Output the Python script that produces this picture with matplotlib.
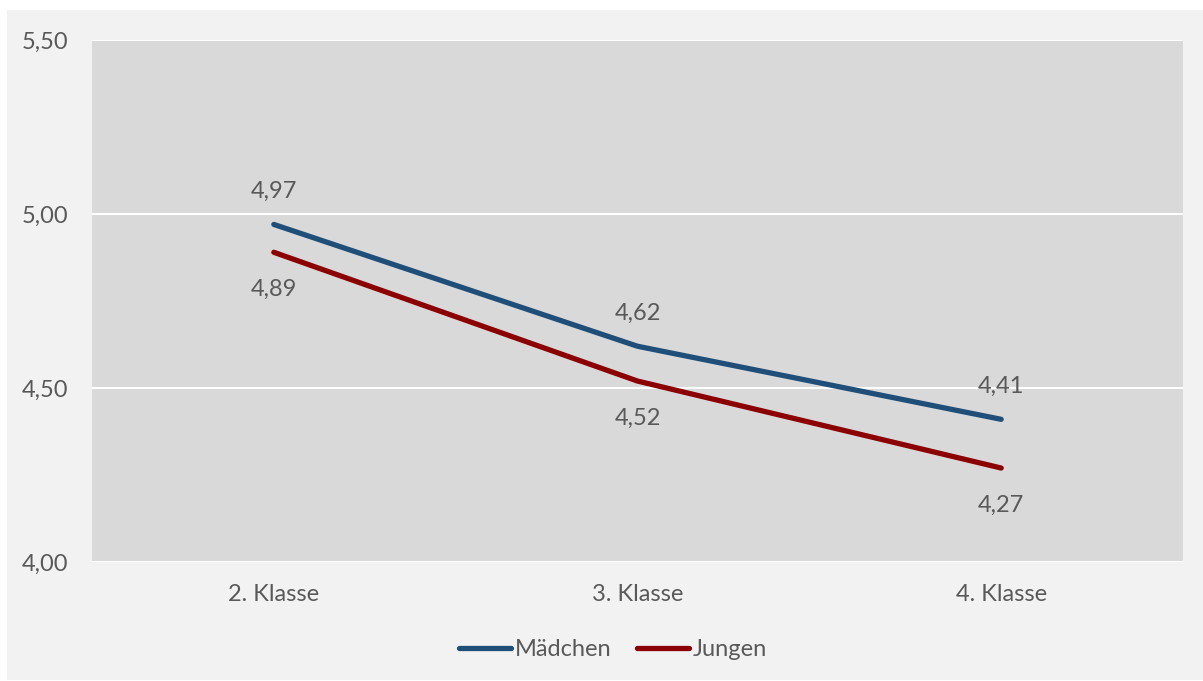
import matplotlib.pyplot as plt
from matplotlib.patches import Rectangle

klassen = ["2. Klasse", "3. Klasse", "4. Klasse"]
maedchen = [4.97, 4.62, 4.41]
jungen = [4.89, 4.52, 4.27]
y_ticks = [4.00, 4.50, 5.00, 5.50]

blau = "#1F4E79"
rot = "#8B0000"
text_farbe = "#595959"

plt.rcParams['font.family'] = ['Lato', 'DejaVu Sans']

fig = plt.figure(figsize=(12.03, 6.81), dpi=100)
fig.patch.set_facecolor("white")
# grey panel behind the chart
fig.patches.append(Rectangle((7/1203, 1/681), 1196/1203, 670/681,
                             transform=fig.transFigure, facecolor="#F2F2F2",
                             edgecolor="none", zorder=-1))

ax = fig.add_axes([92/1203, 1 - 562/681, 1091/1203, 522/681])
ax.set_facecolor("#D9D9D9")

x = list(range(len(klassen)))
ax.plot(x, maedchen, color=blau, lw=3.8, solid_capstyle="round", label="Mädchen", zorder=3)
ax.plot(x, jungen, color=rot, lw=3.8, solid_capstyle="round", label="Jungen", zorder=3)

fs = 17
for xi, v in zip(x, maedchen):
    ax.annotate(f"{v:.2f}".replace(".", ","), (xi, v), xytext=(0, 16),
                textcoords="offset points", ha="center", va="bottom",
                fontsize=fs, color=text_farbe)
for xi, v in zip(x, jungen):
    ax.annotate(f"{v:.2f}".replace(".", ","), (xi, v), xytext=(0, -19),
                textcoords="offset points", ha="center", va="top",
                fontsize=fs, color=text_farbe)

ax.set_xlim(-0.5, 2.5)
ax.set_ylim(4.0, 5.5)
ax.set_yticks(y_ticks)
ax.set_yticklabels([f"{t:.2f}".replace(".", ",") for t in y_ticks])
ax.set_xticks(x)
ax.set_xticklabels(klassen)
ax.tick_params(axis="both", length=0, labelsize=fs, colors=text_farbe)
ax.tick_params(axis="y", pad=17)
ax.tick_params(axis="x", pad=16)
ax.grid(axis="y", color="white", lw=1.5)
ax.set_axisbelow(True)
for s in ax.spines.values():
    s.set_visible(False)

leg = fig.legend(loc="center", bbox_to_anchor=(613/1203, 1 - 650/681), ncol=2,
                 frameon=False, fontsize=fs, handlelength=2.2, handletextpad=0.15,
                 columnspacing=1.1, labelcolor=text_farbe)

fig.savefig("out.png", dpi=100, facecolor=fig.get_facecolor())
